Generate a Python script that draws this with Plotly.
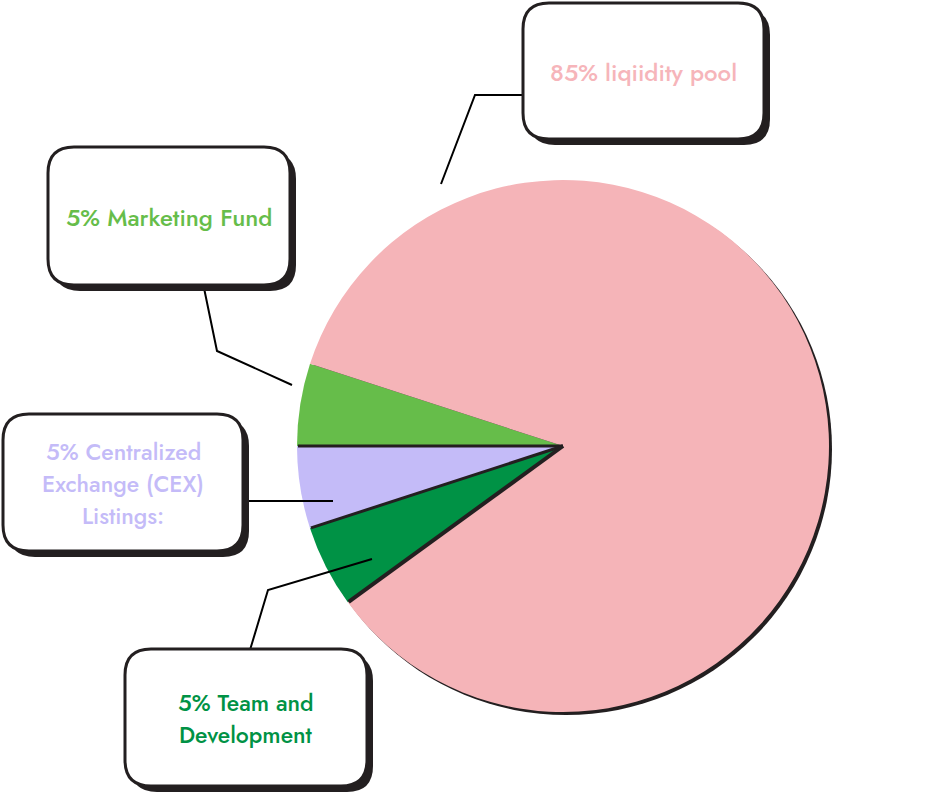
import math
import plotly.graph_objects as go

# ---- data ----
labels = ["5% Marketing Fund", "5% Centralized Exchange (CEX) Listings:",
          "5% Team and Development", "85% liqiidity pool"]
values = [5, 5, 5, 85]
colors = ["#66bd4a", "#c4bbf8", "#009245", "#f5b4b8"]
box_lines = [["85% liqiidity pool"], ["5% Marketing Fund"],
             ["5% Centralized", "Exchange (CEX)", "Listings:"], ["5% Team and", "Development"]]
box_colors = ["#f6b5ba", "#66bd4a", "#c4bbf8", "#009245"]

W, H = 934, 807
INK = "#231f20"

# pie geometry (pixels)
cx, cy, R = 563, 446, 266
rotation = -90

def dom(dx=0, dy=0):
    x0 = cx - R + dx
    y0 = cy - R + dy
    return dict(x=[x0 / W, (x0 + 2 * R) / W],
                y=[1 - (y0 + 2 * R) / H, 1 - y0 / H])

fig = go.Figure()

# shadow pie
fig.add_trace(go.Pie(values=[sum(values)], marker=dict(colors=[INK], line=dict(width=0)),
                     domain=dom(3, 3), textinfo="none", hoverinfo="skip",
                     showlegend=False, sort=False, rotation=rotation))
# main pie
fig.add_trace(go.Pie(labels=labels, values=values, marker=dict(colors=colors, line=dict(width=0)),
                     domain=dom(), textinfo="none", showlegend=False, sort=False,
                     direction="counterclockwise", rotation=rotation))

# invisible pixel axes for decorations
fig.add_trace(go.Scatter(x=[0, W], y=[0, H], mode="markers",
                         marker=dict(opacity=0), hoverinfo="skip", showlegend=False))

shapes = []
# separator lines between slices (derived from values)
total = sum(values)
start_math = 90 - rotation - 360 * values[0] / total
cum = 0
for i, v in enumerate(values[:-1]):
    cum += v
    a = math.radians(start_math + 360 * cum / total)
    shapes.append(dict(type="line", xref="x", yref="y", x0=cx, y0=cy,
                       x1=cx + (R - 1) * math.cos(a), y1=cy - (R - 1) * math.sin(a),
                       line=dict(color=INK, width=3 if i < 2 else 4)))

# leader lines
leaders = [
    [(523, 95), (475, 95), (441, 184)],
    [(204, 288), (217, 351), (292, 385)],
    [(245, 501), (333, 501)],
    [(250, 650), (268, 590), (372, 559)],
]
for pts in leaders:
    p = "M " + " L ".join(f"{x},{y}" for x, y in pts)
    shapes.append(dict(type="path", xref="x", yref="y", path=p,
                       line=dict(color="black", width=2)))

def rrect(x0, y0, x1, y1, r):
    return (f"M {x0+r},{y0} L {x1-r},{y0} Q {x1},{y0} {x1},{y0+r} "
            f"L {x1},{y1-r} Q {x1},{y1} {x1-r},{y1} L {x0+r},{y1} "
            f"Q {x0},{y1} {x0},{y1-r} L {x0},{y0+r} Q {x0},{y0} {x0+r},{y0} Z")

boxes = [(523, 3, 764, 139), (48, 147, 290, 285), (3, 414, 243, 551), (125, 649, 367, 786)]
LINE_GAP = 32
annotations = []
for (x0, y0, x1, y1), lines, col in zip(boxes, box_lines, box_colors):
    shapes.append(dict(type="path", xref="x", yref="y", path=rrect(x0 + 6, y0 + 6, x1 + 6, y1 + 6, 26),
                       fillcolor=INK, line=dict(width=0)))
    shapes.append(dict(type="path", xref="x", yref="y", path=rrect(x0, y0, x1, y1, 26),
                       fillcolor="white", line=dict(color=INK, width=3)))
    n = len(lines)
    ymid = (y0 + y1) / 2 + 1
    for k, txt in enumerate(lines):
        annotations.append(dict(x=(x0 + x1) / 2, y=ymid + (k - (n - 1) / 2) * LINE_GAP,
                                xref="x", yref="y", text=txt, showarrow=False,
                                borderpad=0, borderwidth=0,
                                font=dict(family="Jost, Lato, sans-serif",
                                          size=24 if n == 1 else 23,
                                          weight=500, color=col)))

fig.update_layout(
    width=W, height=H, margin=dict(l=0, r=0, t=0, b=0),
    paper_bgcolor="white", plot_bgcolor="rgba(0,0,0,0)",
    xaxis=dict(range=[0, W], visible=False, fixedrange=True),
    yaxis=dict(range=[H, 0], visible=False, fixedrange=True),
    shapes=shapes, annotations=annotations, showlegend=False,
)

fig.write_html("out.html", config={"displayModeBar": False},
               post_script="document.body.style.margin='0';")
